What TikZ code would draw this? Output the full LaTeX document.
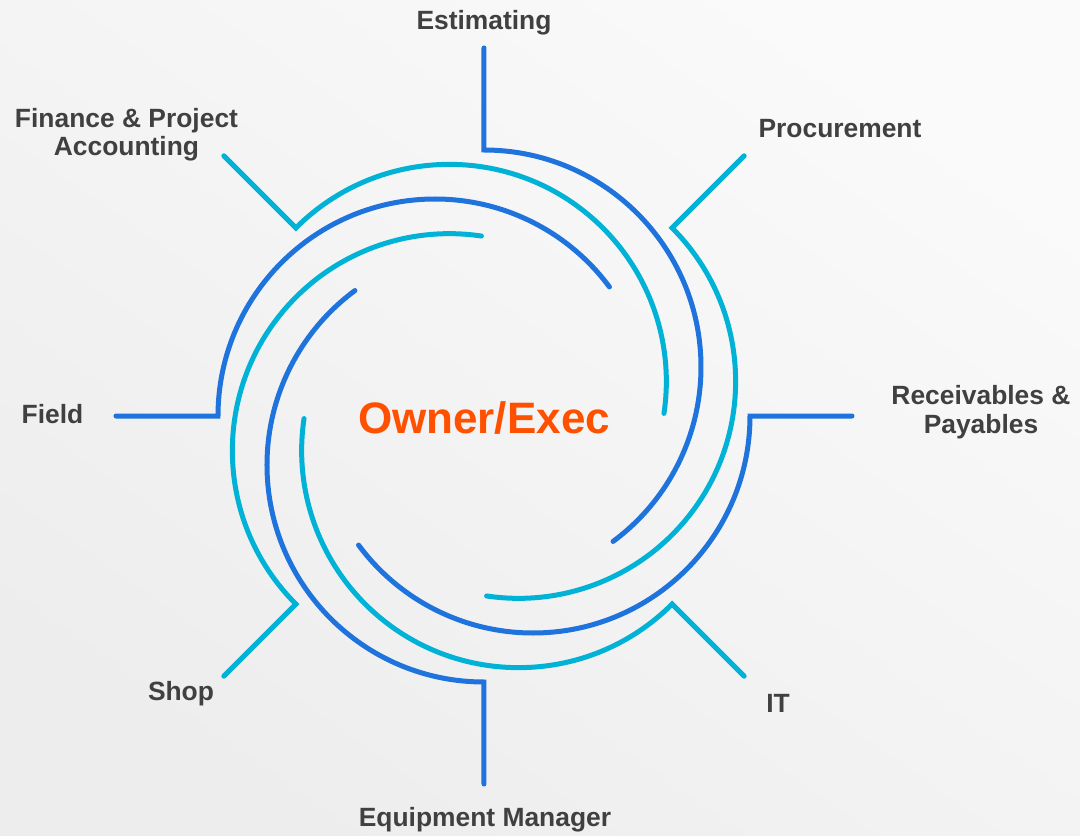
\documentclass[tikz,border=0pt]{standalone}
\usepackage{fontspec}
\setmainfont{Liberation Sans}
\definecolor{dblue}{RGB}{30,115,220}
\definecolor{lcyan}{RGB}{0,178,214}
\definecolor{txtgray}{RGB}{64,64,64}
\definecolor{orng}{RGB}{255,80,0}
\begin{document}
\begin{tikzpicture}[x=1pt,y=1pt,
  spiral/.style={line width=5pt, line cap=round, line join=miter},
  lbl/.style={font=\bfseries\fontsize{26.4}{28.5}\selectfont, text=txtgray, align=center, inner sep=0pt, anchor=base},
  hub/.style={font=\bfseries\fontsize{44}{50}\selectfont, text=orng, inner sep=0pt, anchor=base}
]
\useasboundingbox (-484,-420) rectangle (596,416);
\shade[top color=white!98!black, bottom color=black!7, shading angle=-35] (-484,-420) rectangle (596,416);

\foreach \a/\c/\n in {90/dblue/est, 45/lcyan/pro, 0/dblue/rec, -45/lcyan/it, -90/dblue/eqm, -135/lcyan/shp, 180/dblue/fld, 135/lcyan/fin}{
  \coordinate (\n-o) at (\a:368);
  \coordinate (\n-i) at (\a:266);
  \draw[spiral, \c] (\n-o) -- (\n-i) arc[start angle=\a, end angle=\a-143.5, radius=217];
}

\node[hub] (owner) at (0,-17) {Owner/Exec};
\node[lbl] (estimating) at (0,386) {Estimating};
\node[lbl] (procurement) at (356,278) {Procurement};
\node[lbl] (receivables) at (497,-17) {Receivables \&\\Payables};
\node[lbl] (itlbl) at (294,-296) {IT};
\node[lbl] (equipment) at (1,-410) {Equipment Manager};
\node[lbl] (shop) at (-303,-284) {Shop};
\node[lbl] (field) at (-431.5,-7) {Field};
\node[lbl] (finance) at (-357.5,260) {Finance \& Project\\Accounting};
\end{tikzpicture}
\end{document}
